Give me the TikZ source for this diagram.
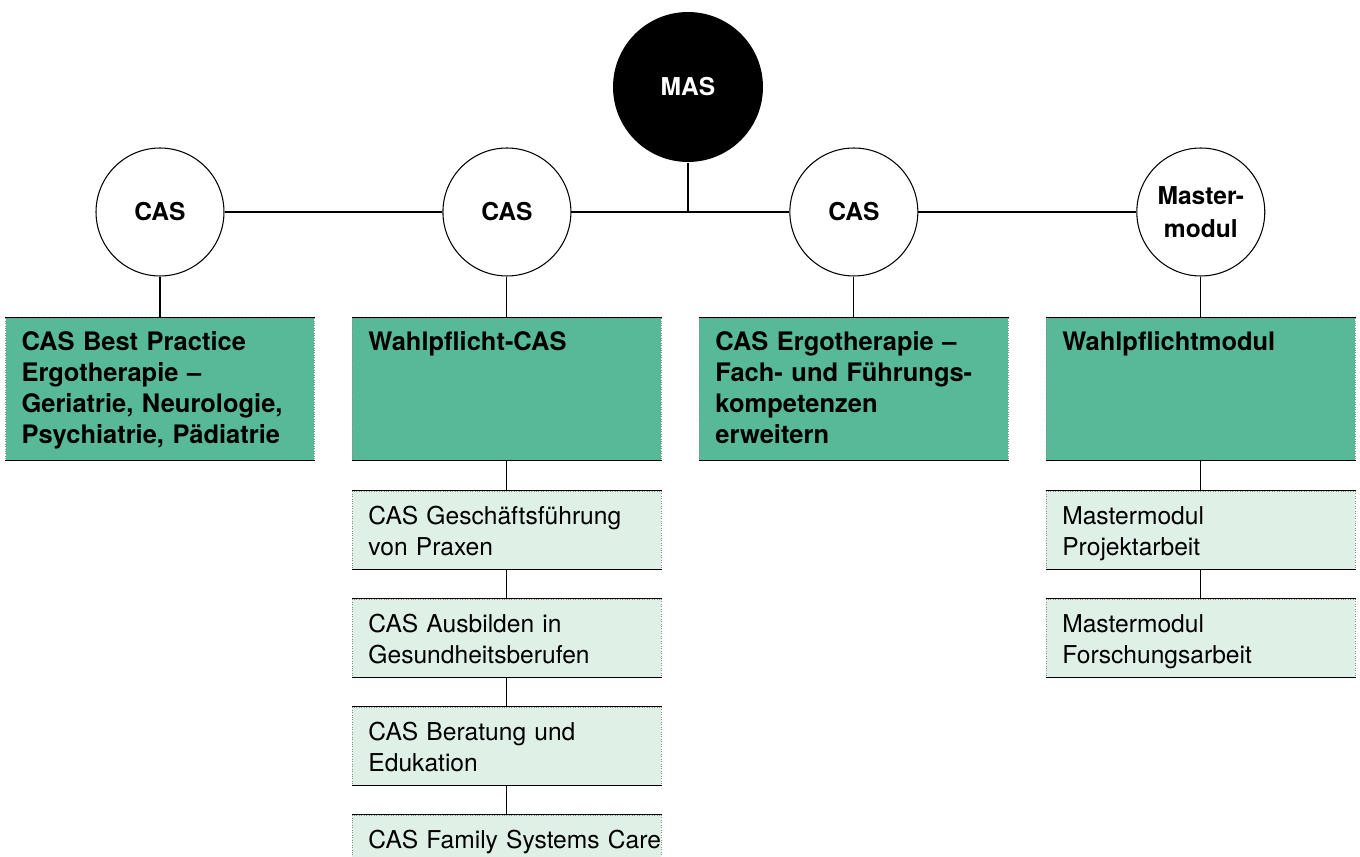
\documentclass[tikz,border=0pt]{standalone}
\usepackage{fontspec}
\setmainfont{TeX Gyre Heros}
\usetikzlibrary{positioning}
\definecolor{modgreen}{HTML}{57B997}
\definecolor{modlight}{HTML}{DFF0E7}
\tikzset{
  ring/.style={circle,draw,fill=white,minimum size=2.56cm,inner sep=0pt,
    align=center,font=\bfseries\fontsize{14}{17}\selectfont},
  masring/.style={circle,fill=black,text=white,minimum size=3cm,inner sep=0pt,
    font=\bfseries\fontsize{14}{17}\selectfont},
  modbox/.style={rectangle,draw=black!45,densely dotted,line width=0.4pt,
    text width=5.54cm,inner xsep=0.32cm,inner ysep=0pt,align=left,
    append after command={
      (\tikzlastnode.north west) edge[draw=black,solid,line width=0.7pt] (\tikzlastnode.north east)
      (\tikzlastnode.south west) edge[draw=black,solid,line width=0.7pt] (\tikzlastnode.south east)}},
  mainbox/.style={modbox,fill=modgreen,text height=0.66cm,text depth=2.18cm,
    font=\bfseries\fontsize{14.5}{17.6}\selectfont},
  subbox/.style={modbox,fill=modlight,text height=0.68cm,text depth=0.88cm,
    font=\fontsize{14}{17.6}\selectfont},
}

\begin{document}
\begin{tikzpicture}[x=0.02cm,y=-0.02cm,line width=0.6pt,node distance=6.94cm,on grid]
  \path[use as bounding box,clip] (0,0) rectangle (1360,857);
  % top level
  \node[masring] (mas) at (688,87) {MAS};
  \node[ring] (cas1) at (160,212) {CAS};
  \node[ring] (cas2) [right=of cas1] {CAS};
  \node[ring] (cas3) [right=of cas2] {CAS};
  \node[ring] (mmod) [right=of cas3] {Master-\\[1.6pt]modul};
  \coordinate (hub) at (mas |- cas2);
  % main modules
  \node[mainbox] (best) [below=3.54cm of cas1] {CAS Best Practice\\Ergotherapie –\\Geriatrie, Neurologie,\\Psychiatrie, Pädiatrie};
  \node[mainbox] (wpcas) [below=3.54cm of cas2] {Wahlpflicht-CAS};
  \node[mainbox] (fach) [below=3.54cm of cas3] {CAS Ergotherapie –\\Fach- und Führungs-\\kompetenzen\\erweitern};
  \node[mainbox] (wpmod) [below=3.54cm of mmod] {Wahlpflichtmodul};
  % elective CAS
  \node[subbox] (gf) [below=2.82cm of wpcas] {CAS Geschäftsführung\\von Praxen};
  \node[subbox] (ausb) [below=2.16cm of gf] {CAS Ausbilden in\\Gesundheitsberufen};
  \node[subbox] (ber) [below=2.16cm of ausb] {CAS Beratung und\\Edukation};
  \node[subbox] (fam) [below=2.16cm of ber] {\mbox{CAS Family Systems Care}};
  % master modules
  \node[subbox] (proj) [below=2.82cm of wpmod] {Mastermodul\\Projektarbeit};
  \node[subbox] (forsch) [below=2.16cm of proj] {Mastermodul\\Forschungsarbeit};
  \draw (cas1) -- (cas2) (cas2) -- (cas3) (cas3) -- (mmod);
  \draw (mas) -- (hub);
  \draw (cas1) -- (best) (cas2) -- (wpcas) (cas3) -- (fach) (mmod) -- (wpmod);
  \draw (wpcas) -- (gf) (gf) -- (ausb) (ausb) -- (ber) (ber) -- (fam);
  \draw (wpmod) -- (proj) (proj) -- (forsch);
\end{tikzpicture}
\end{document}
